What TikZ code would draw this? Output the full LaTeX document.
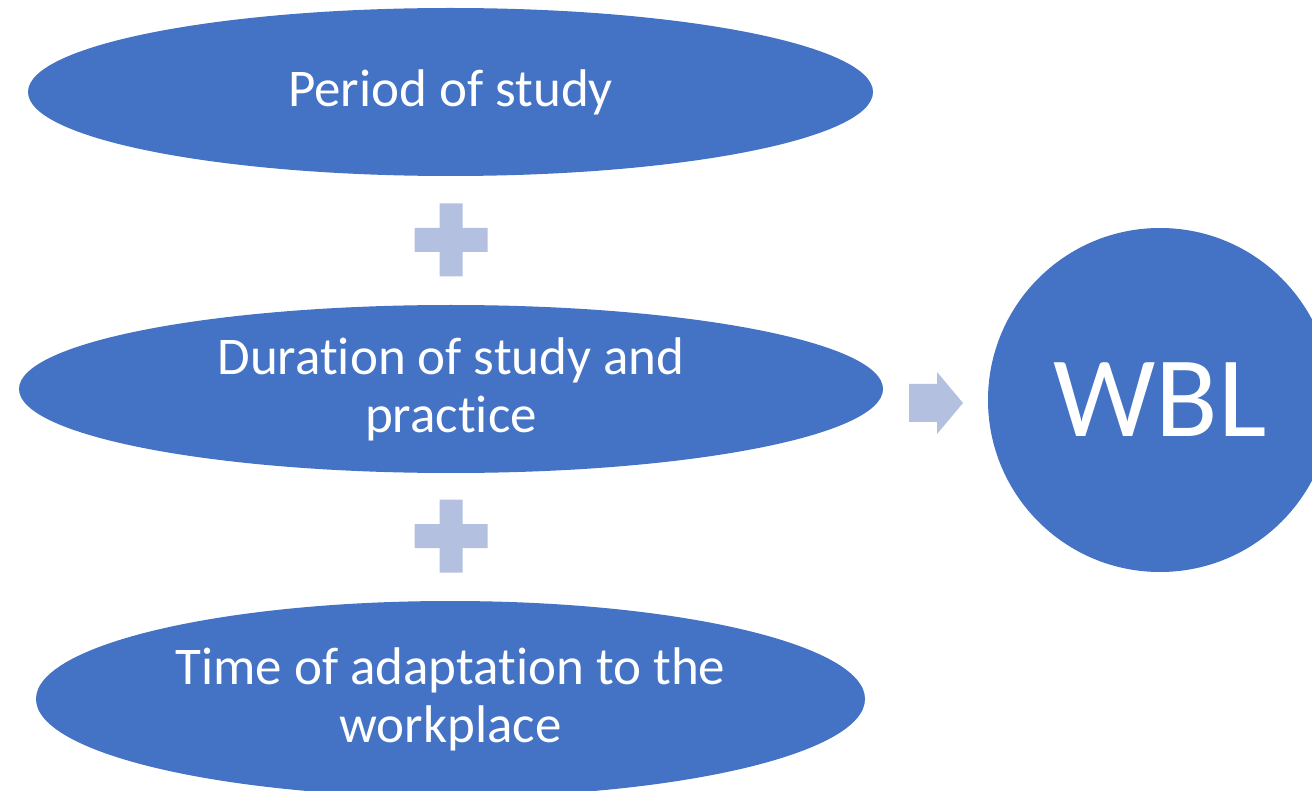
\documentclass[tikz,border=0pt]{standalone}
\usepackage{fontspec}
\setmainfont{Carlito}[Ligatures={NoCommon}]
\usetikzlibrary{shapes.geometric}
\definecolor{mainblue}{HTML}{4472C4}
\definecolor{lightblue}{HTML}{B4C0E0}
\tikzset{
  oval/.style={ellipse, fill=mainblue, draw=none, inner sep=0pt, text=white, align=center,
    font=\fontsize{53}{58}\selectfont},
  bigcircle/.style={circle, fill=mainblue, draw=none, inner sep=0pt, text=white,
    font=\fontsize{115}{120}\selectfont},
  plusfill/.style={fill=lightblue, draw=none},
}
\begin{document}
\begin{tikzpicture}[x=1pt, y=-1pt]
\useasboundingbox (0,0) rectangle (1312,791);
\clip (0,0) rectangle (1312,791);
\node[oval, minimum width=845pt, minimum height=168pt] (period) at (450.5,92) {Period of study};
\node[oval, minimum width=864pt, minimum height=168pt] (duration) at (451,389) {Duration of study and\\practice};
\node[oval, minimum width=829pt, minimum height=196pt] (time) at (450.5,699) {Time of adaptation to the\\workplace};
\node[bigcircle, minimum size=344pt] (wbl) at (1160,400) {WBL};
% plus signs
\coordinate (p1) at (451,240);
\coordinate (p2) at (451,536);
\foreach \p in {p1,p2}{
  \fill[plusfill] ([xshift=-11.5pt,yshift=36.5pt]\p) -- ([xshift=11.5pt,yshift=36.5pt]\p)
    -- ([xshift=11.5pt,yshift=12pt]\p) -- ([xshift=36.5pt,yshift=12pt]\p)
    -- ([xshift=36.5pt,yshift=-12pt]\p) -- ([xshift=11.5pt,yshift=-12pt]\p)
    -- ([xshift=11.5pt,yshift=-36.5pt]\p) -- ([xshift=-11.5pt,yshift=-36.5pt]\p)
    -- ([xshift=-11.5pt,yshift=-12pt]\p) -- ([xshift=-36.5pt,yshift=-12pt]\p)
    -- ([xshift=-36.5pt,yshift=12pt]\p) -- ([xshift=-11.5pt,yshift=12pt]\p) -- cycle;
}
% arrow
\fill[plusfill] (909,384) -- (937,384) -- (937,372) -- (963,403) -- (937,434) -- (937,422) -- (909,422) -- cycle;
\end{tikzpicture}
\end{document}
